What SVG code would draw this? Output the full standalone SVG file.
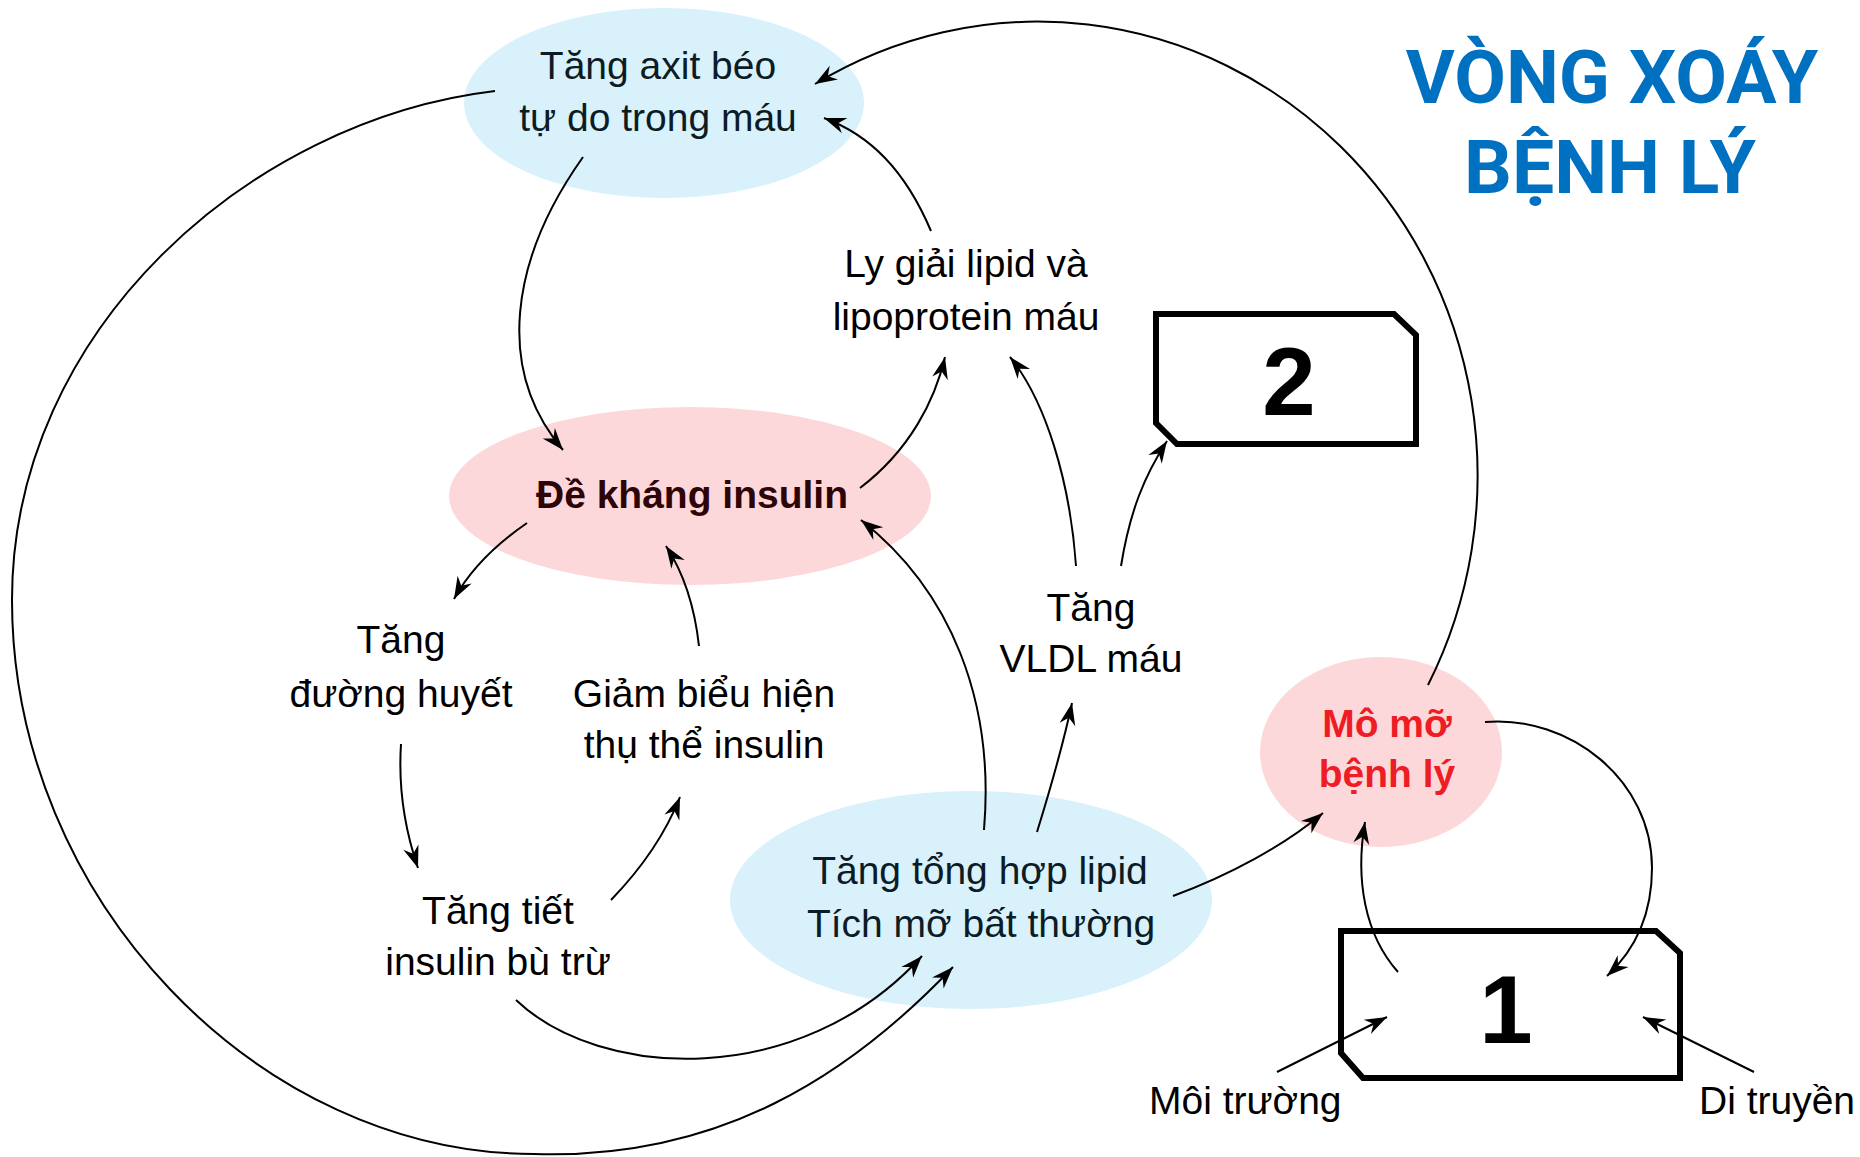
<svg xmlns="http://www.w3.org/2000/svg" width="1860" height="1157" viewBox="0 0 1860 1157">
<style>
.lbl{font-family:"Liberation Sans",Arial,sans-serif;font-size:39px;fill:#000;text-anchor:middle}
.dk{fill:#0c1c26}
.bold{font-weight:bold}
.blue{fill:#D9F1FA}
.pink{fill:#FDD8DA}
.box{fill:#fff;stroke:#000;stroke-width:6;stroke-linejoin:miter}
.num{font-family:"Liberation Sans",Arial,sans-serif;font-size:96px;font-weight:bold;fill:#000;text-anchor:middle}
.title{font-family:Roboto,"Liberation Sans",sans-serif;font-size:75px;font-weight:bold;fill:#0070C0;text-anchor:middle}
.con path{fill:none;stroke:#000;stroke-width:2;marker-end:url(#ah)}
</style>
<defs>
<marker id="ah" markerUnits="userSpaceOnUse" viewBox="-24 -10 26 20" refX="0" refY="0" markerWidth="26" markerHeight="20" orient="auto">
<path d="M0,0 L-22,-8 L-15,0 L-22,8 Z" fill="#000"/>
</marker>
</defs>
<rect width="1860" height="1157" fill="#fff"/>

<g id="nodeA">
<ellipse class="blue" cx="664" cy="103" rx="200" ry="95"/>
<text class="lbl dk" x="658" y="79">Tăng axit béo</text>
<text class="lbl dk" x="658" y="131">tự do trong máu</text>
</g>
<g id="nodeB">
<ellipse class="pink" cx="690" cy="496" rx="241" ry="89"/>
<text class="lbl bold" x="692" y="508" style="fill:#2d0508">Đề kháng insulin</text>
</g>
<g id="nodeC">
<ellipse class="blue" cx="971" cy="900" rx="241" ry="109"/>
<text class="lbl dk" x="980" y="884">Tăng tổng hợp lipid</text>
<text class="lbl dk" x="981" y="937">Tích mỡ bất thường</text>
</g>
<g id="nodeMoMo">
<ellipse class="pink" cx="1381" cy="752" rx="121" ry="95"/>
<text class="lbl bold" x="1387" y="737" style="fill:#EE1C24">Mô mỡ</text>
<text class="lbl bold" x="1387" y="787" style="fill:#EE1C24">bệnh lý</text>
</g>
<g id="nodeLy">
<text class="lbl" x="966" y="277">Ly giải lipid và</text>
<text class="lbl" x="966" y="330">lipoprotein máu</text>
</g>
<g id="nodeVLDL">
<text class="lbl" x="1091" y="621">Tăng</text>
<text class="lbl" x="1091" y="672">VLDL máu</text>
</g>
<g id="nodeDuong">
<text class="lbl" x="401" y="653">Tăng</text>
<text class="lbl" x="401" y="707">đường huyết</text>
</g>
<g id="nodeGiam">
<text class="lbl" x="704" y="707">Giảm biểu hiện</text>
<text class="lbl" x="704" y="758">thụ thể insulin</text>
</g>
<g id="nodeTiet">
<text class="lbl" x="498" y="924">Tăng tiết</text>
<text class="lbl" x="498" y="975">insulin bù trừ</text>
</g>
<g id="box2">
<path class="box" d="M1156 314 L1394 314 L1416 335 L1416 444 L1177 444 L1156 423 Z"/>
<text class="num" x="1289" y="415">2</text>
</g>
<g id="box1">
<path class="box" d="M1341 931 L1656 931 L1680 953 L1680 1078 L1363 1078 L1341 1053 Z"/>
<text class="num" x="1506" y="1043">1</text>
</g>
<g id="nodeMoiTruong">
<text class="lbl" x="1149" y="1114" style="text-anchor:start">Môi trường</text>
</g>
<g id="nodeDiTruyen">
<text class="lbl" x="1699" y="1114" style="text-anchor:start">Di truyền</text>
</g>
<g id="title">
<text class="title" x="1612" y="103">VÒNG XOÁY</text>
<text class="title" x="1610" y="193">BỆNH LÝ</text>
</g>

<g id="connectors" class="con">
<path d="M1428 685 A440 454 0 0 0 815 84"/>
<path d="M495 91 C250 120 12 330 12 600 C12 900 260 1154 534 1154 C720 1160 850 1075 953 967"/>
<path d="M583 157 C510 260 495 370 563 450"/>
<path d="M860 488 C910 450 935 400 945 357"/>
<path d="M931 231 C905 170 870 135 824 118"/>
<path d="M1076 566 C1070 480 1045 400 1010 357"/>
<path d="M1121 566 C1130 510 1145 475 1167 441"/>
<path d="M527 523 C495 545 470 570 454 599"/>
<path d="M699 646 C695 610 685 575 666 546"/>
<path d="M984 830 C995 700 950 590 861 520"/>
<path d="M1037 832 C1050 790 1062 750 1072 703"/>
<path d="M401 744 C398 790 405 830 418 868"/>
<path d="M611 900 C640 870 665 835 680 797"/>
<path d="M516 1000 C600 1080 800 1090 922 956"/>
<path d="M1173 896 C1230 875 1285 845 1323 813"/>
<path d="M1485 722 C1570 715 1652 780 1652 868 C1652 915 1635 950 1607 976"/>
<path d="M1398 972 C1365 935 1355 880 1365 822"/>
<path d="M1277 1072 L1387 1017"/>
<path d="M1754 1072 L1643 1017"/>
</g>
</svg>
